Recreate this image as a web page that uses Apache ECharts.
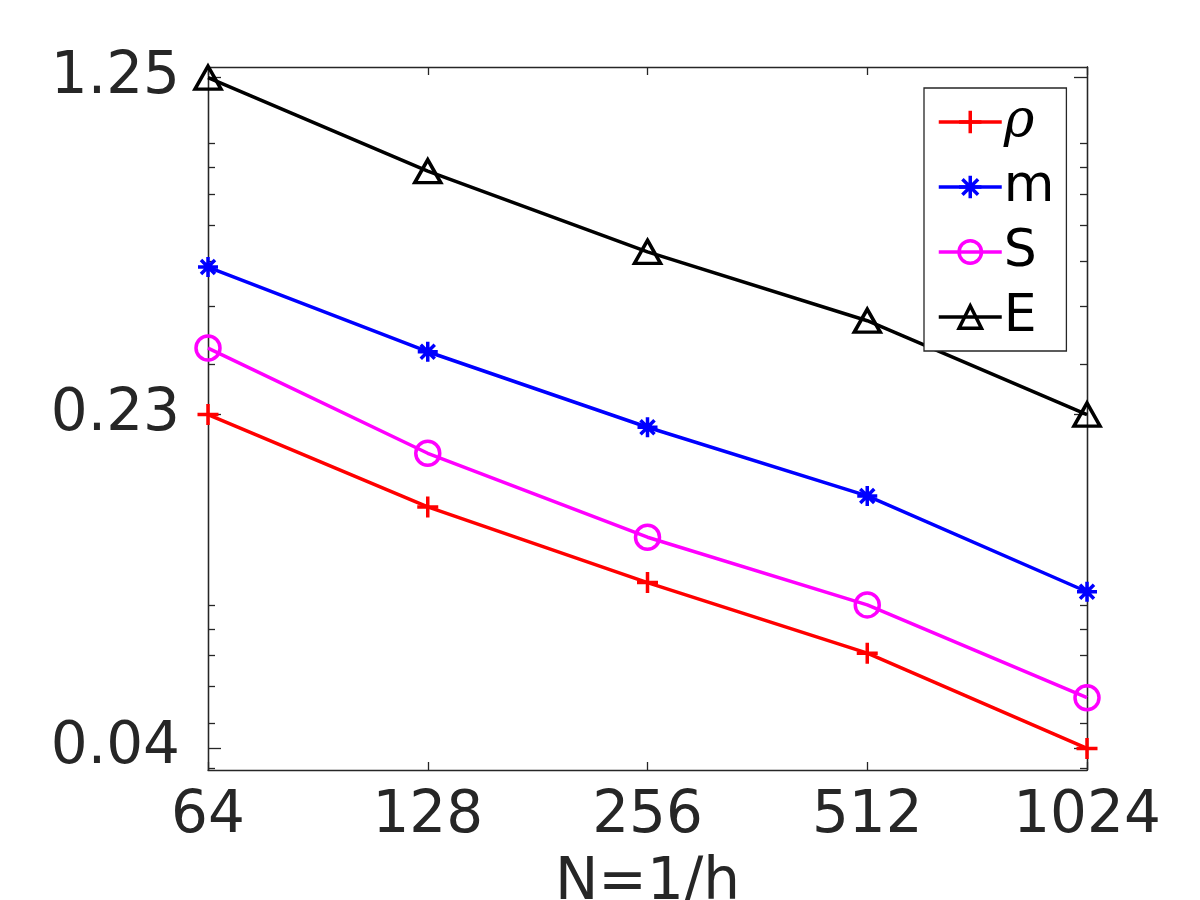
<!DOCTYPE html>
<html lang="en">
<head>
    <meta charset="utf-8">
    <title>Errors vs N</title>
    <script src="https://cdn.jsdelivr.net/npm/echarts@6/dist/echarts.min.js"></script>
    <style>
        html, body { margin: 0; padding: 0; background: #fff; }
        #chart { width: 1200px; height: 900px; }
    </style>
</head>
<body>
<div id="chart"></div>
<script type="text/javascript">
    // grid sizes N = 1/h
    var nValues = [64, 128, 256, 512, 1024];
    // errors
    var rhoErr = [0.233, 0.147, 0.1008, 0.0709, 0.0441];
    var mErr = [0.486, 0.3187, 0.2187, 0.1553, 0.0963];
    var sErr = [0.3246, 0.1921, 0.1264, 0.0902, 0.0568];
    var eErr = [1.25, 0.784, 0.5245, 0.372, 0.233];
    // ticks
    var xTicks = [64, 128, 256, 512, 1024];
    var yMajorTicks = [0.0441, 0.233, 1.25];
    var yMinorTicks = [0.04, 0.05, 0.06, 0.07, 0.08, 0.09, 0.3, 0.4, 0.5, 0.6, 0.7, 0.8, 0.9];

    var yMin = 0.0396, yMax = 1.318;
    var axisColor = '#262626';
    var font = 'DejaVu Sans';

    function pairs(ys) {
        return nValues.map(function (n, i) { return [n, ys[i]]; });
    }

    // marker shapes (stroke only)
    var plusSym = 'path://M10,0L10,20M0,10L20,10';
    var starSym = 'path://M10,0L10,20M0,10L20,10M3,3L17,17M3,17L17,3';
    var triSym = 'path://M10,0L20,17.3L0,17.3Z';

    function mkSeries(name, ys, color, symbol, size) {
        return {
            name: name,
            type: 'line',
            data: pairs(ys),
            symbol: symbol,
            symbolSize: size,
            showAllSymbol: true,
            lineStyle: {color: color, width: 3.5},
            itemStyle: {color: 'rgba(0,0,0,0)', borderColor: color, borderWidth: 3.5},
            emphasis: {disabled: true},
            animation: false,
            z: 3
        };
    }

    function yAxisDef(pos, ticks, len, labels) {
        return {
            type: 'log',
            logBase: 10,
            position: pos,
            min: yMin,
            max: yMax,
            axisLine: {show: true, lineStyle: {color: axisColor, width: 1.3}},
            axisTick: {show: true, inside: true, length: len, customValues: ticks,
                lineStyle: {color: axisColor, width: 1.3}},
            axisLabel: labels ? {
                show: true, customValues: ticks, margin: 28,
                fontFamily: font, fontSize: 58, color: axisColor,
                formatter: function (v) { return Number(v).toFixed(2); }
            } : {show: false},
            splitLine: {show: false},
            minorTick: {show: false}
        };
    }

    function xAxisDef(pos, labels) {
        var ax = {
            type: 'log',
            logBase: 2,
            position: pos,
            min: 64,
            max: 1024,
            axisLine: {show: true, lineStyle: {color: axisColor, width: 1.3}},
            axisTick: {show: true, inside: true, length: 8, customValues: xTicks,
                lineStyle: {color: axisColor, width: 1.3}},
            axisLabel: labels ? {
                show: true, customValues: xTicks, margin: 18,
                fontFamily: font, fontSize: 58, color: axisColor,
                formatter: function (v) { return String(Math.round(v)); }
            } : {show: false},
            splitLine: {show: false}
        };
        if (labels) {
            ax.name = 'N=1/h';
            ax.nameLocation = 'middle';
            ax.nameGap = 85;
            ax.nameTextStyle = {fontFamily: font, fontSize: 58, color: axisColor};
        }
        return ax;
    }

    var chart = echarts.init(document.getElementById('chart'), null, {renderer: 'canvas'});
    chart.setOption({
        backgroundColor: '#fff',
        animation: false,
        grid: {left: 208, right: 113, top: 67, bottom: 130, containLabel: false, outerBoundsMode: 'none'},
        xAxis: [xAxisDef('bottom', true), xAxisDef('top', false)],
        yAxis: [
            yAxisDef('left', yMajorTicks, 13, true),
            yAxisDef('left', yMinorTicks, 7, false),
            yAxisDef('right', yMajorTicks, 13, false),
            yAxisDef('right', yMinorTicks, 7, false)
        ],
        legend: {
            orient: 'vertical',
            left: 924,
            top: 88,
            padding: [8, 12, 8, 13],
            itemGap: 13,
            itemWidth: 63,
            itemHeight: 28,
            backgroundColor: '#fff',
            borderColor: axisColor,
            borderWidth: 1.3,
            borderRadius: 0,
            lineStyle: {width: 3.5},
            itemStyle: {borderWidth: 3.5},
            textStyle: {fontFamily: font, fontSize: 52, lineHeight: 52, color: '#000', padding: [0, 0, 0, -3]},
            data: [
                {name: 'ρ', textStyle: {fontFamily: 'DejaVu Serif', fontStyle: 'italic'}},
                'm', 'S', 'E'
            ]
        },
        series: [
            mkSeries('ρ', rhoErr, '#ff0000', plusSym, 21),
            mkSeries('m', mErr, '#0000ff', starSym, 20),
            mkSeries('S', sErr, '#ff00ff', 'circle', 24),
            mkSeries('E', eErr, '#000000', triSym, [26, 23])
        ]
    });
</script>
</body>
</html>
